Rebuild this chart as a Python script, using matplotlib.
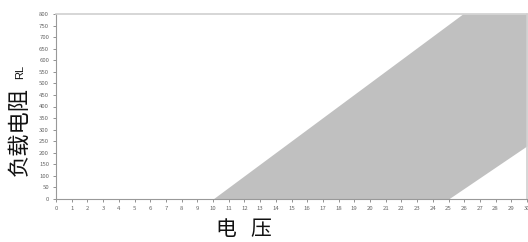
import matplotlib
matplotlib.use("Agg")
import matplotlib.pyplot as plt
import numpy as np

plt.rcParams['font.family'] = ['Noto Sans CJK SC', 'DejaVu Sans']

# Boundaries of the shaded region (voltage, resistance)
left_v = [10.0, 25.9, 30.0]
left_r = [0, 800, 800]
right_v = [10.0, 25.0, 30.0]
right_r = [0, 0, 230]

x_ticks = list(range(0, 31))
y_ticks = list(range(0, 801, 50))

fig = plt.figure(figsize=(5.28, 2.42), dpi=100)
ax = fig.add_axes([56/528, 1 - 199/242, (527-56)/528, (199-14)/242])

v = np.array([10.0, 25.0, 25.9, 30.0])
upper = np.interp(v, left_v, left_r)
lower = np.interp(v, right_v, right_r)
ax.fill_between(v, lower, upper, color='#c0c0c0', linewidth=0)

ax.set_xlim(0, 30)
ax.set_ylim(0, 800)
ax.set_xticks(x_ticks)
ax.set_yticks(y_ticks)
ax.tick_params(axis='both', labelsize=4.3, colors='#666666', length=2, width=0.5, pad=3)
for s in ['left', 'bottom']:
    ax.spines[s].set_color('#999999')
    ax.spines[s].set_linewidth(0.8)
ax.spines['top'].set_color('#d0d0d0')
ax.spines['top'].set_linewidth(1.2)
ax.spines['right'].set_color('#d0d0d0')
ax.spines['right'].set_linewidth(1.2)

fig.text(19/528, 1 - 132/242, '负载电阻', rotation=90, ha='center', va='center', fontsize=16, color='#111111')
fig.text(20/528, 1 - 72/242, 'RL', rotation=90, ha='center', va='center', fontsize=8, color='#111111',
         family=['Liberation Sans', 'DejaVu Sans'])
fig.text(226/528, 1 - 229/242, '电', ha='center', va='center', fontsize=15, color='#111111')
fig.text(261/528, 1 - 229/242, '压', ha='center', va='center', fontsize=15, color='#111111')

fig.savefig('out.png', dpi=100)
